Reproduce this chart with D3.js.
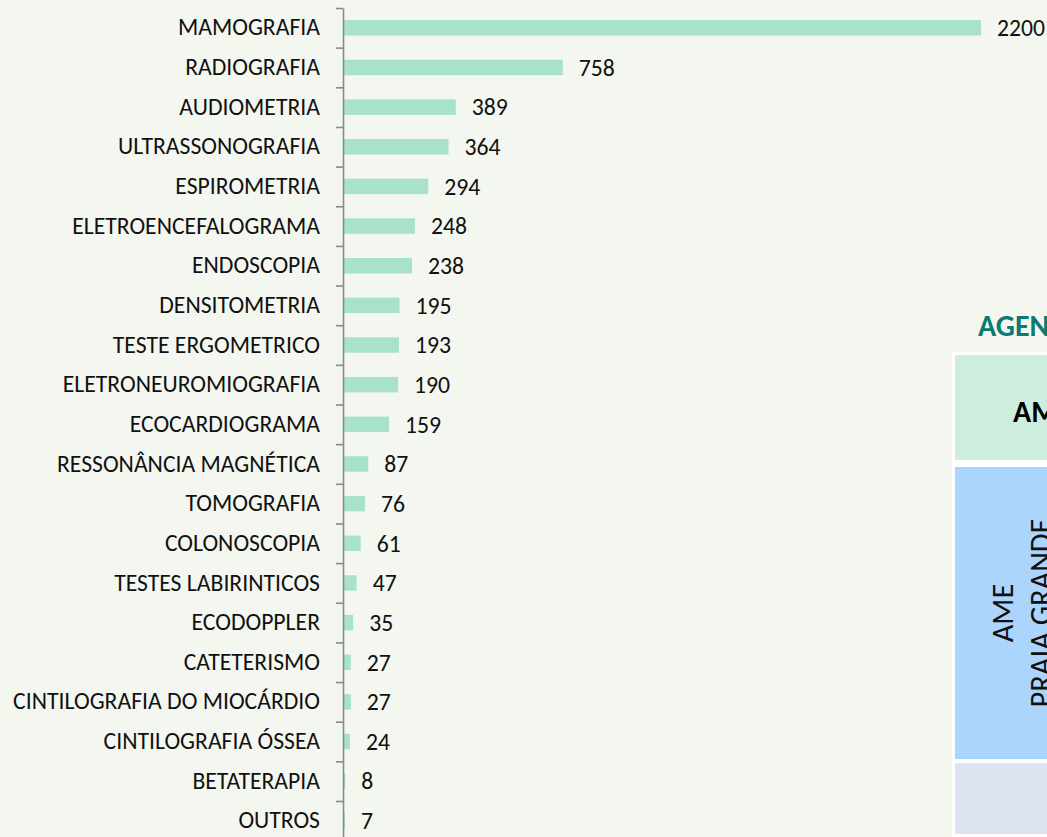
<!DOCTYPE html>
<html>
<head>
<meta charset="utf-8">
<script src="https://cdn.jsdelivr.net/npm/d3@7"></script>
<style>
  body { margin: 0; background: #f4f7ef; }
  svg { display: block; }
</style>
</head>
<body>
<div id="chart"></div>
<script>
var categories = ["MAMOGRAFIA", "RADIOGRAFIA", "AUDIOMETRIA", "ULTRASSONOGRAFIA", "ESPIROMETRIA",
  "ELETROENCEFALOGRAMA", "ENDOSCOPIA", "DENSITOMETRIA", "TESTE ERGOMETRICO", "ELETRONEUROMIOGRAFIA",
  "ECOCARDIOGRAMA", "RESSONÂNCIA MAGNÉTICA", "TOMOGRAFIA", "COLONOSCOPIA", "TESTES LABIRINTICOS",
  "ECODOPPLER", "CATETERISMO", "CINTILOGRAFIA DO MIOCÁRDIO", "CINTILOGRAFIA ÓSSEA", "BETATERAPIA", "OUTROS"];
var values = [2200, 758, 389, 364, 294, 248, 238, 195, 193, 190, 159, 87, 76, 61, 47, 35, 27, 27, 24, 8, 7];

var panelTitle = "AGENDAMENTOS";
var panelHeader = "AME";
var panelUnit = ["AME", "PRAIA GRANDE"];

var width = 1047, height = 837;
var font = "Carlito, Calibri, Lato, sans-serif";

var svg = d3.select("#chart").append("svg").attr("width", width).attr("height", height)
  .style("font-family", font);
svg.append("rect").attr("width", width).attr("height", height).attr("fill", "#f4f7ef");

var x = d3.scaleLinear().domain([0, 2200]).range([343, 981]);
var y = d3.scaleBand().domain(categories).range([8, 8 + 21 * 39.65]).paddingInner(0.61).paddingOuter(0.305);
// category boundaries, used for the tick marks between bars
var yEdge = d3.scaleLinear().domain([0, categories.length]).range(y.range());

// bars
svg.selectAll("rect.bar").data(values).enter().append("rect").attr("class", "bar")
  .attr("x", x(0)).attr("y", function(d, i) { return y(categories[i]); })
  .attr("width", function(d) { return x(d) - x(0); }).attr("height", y.bandwidth())
  .attr("fill", "#a9e2ca");

// value labels
svg.selectAll("text.value").data(values).enter().append("text").attr("class", "value")
  .attr("x", function(d) { return x(d) + 16; })
  .attr("y", function(d, i) { return y(categories[i]) + y.bandwidth() / 2; })
  .attr("dy", "0.35em").attr("font-size", 23.7).attr("fill", "#111")
  .text(function(d) { return d; });

// axis line + ticks at category boundaries
var edgeAxis = svg.append("g").attr("transform", "translate(" + x(0) + ",0)")
  .call(d3.axisLeft(yEdge).tickValues(d3.range(categories.length + 1)).tickSize(7).tickSizeOuter(0).tickFormat(""));
edgeAxis.selectAll("path, line").attr("stroke", "#8a8a8a").attr("stroke-width", 1.6);

// category labels
var labelAxis = svg.append("g").attr("transform", "translate(" + x(0) + ",0)")
  .call(d3.axisLeft(y).tickSize(0).tickPadding(23));
labelAxis.select(".domain").remove();
labelAxis.selectAll("text").attr("font-family", font).attr("font-size", 23.7).attr("fill", "#111");

// right panel (cut off at the edge, as in the original)
var panel = svg.append("g");
panel.append("text").attr("x", 978).attr("y", 336).attr("font-size", 30).attr("font-weight", "bold")
  .attr("fill", "#0b7a6f").text(panelTitle);
panel.append("rect").attr("x", 952).attr("y", 352).attr("width", 120).attr("height", 490).attr("fill", "#ffffff");
panel.append("rect").attr("x", 955).attr("y", 355).attr("width", 120).attr("height", 105).attr("fill", "#cdeddd");
panel.append("rect").attr("x", 955).attr("y", 467).attr("width", 120).attr("height", 292).attr("fill", "#acd5fd");
panel.append("rect").attr("x", 955).attr("y", 763).attr("width", 120).attr("height", 71).attr("fill", "#dbe4f0");
panel.append("text").attr("x", 1013).attr("y", 422).attr("font-size", 30).attr("font-weight", "bold")
  .attr("fill", "#000").text(panelHeader);
var unit = panel.append("text").attr("transform", "translate(1013,613) rotate(-90)")
  .attr("text-anchor", "middle").attr("font-size", 30.5).attr("fill", "#111");
unit.selectAll("tspan").data(panelUnit).enter().append("tspan")
  .attr("x", 0).attr("y", function(d, i) { return i * 38; }).text(function(d) { return d; });
</script>
</body>
</html>
